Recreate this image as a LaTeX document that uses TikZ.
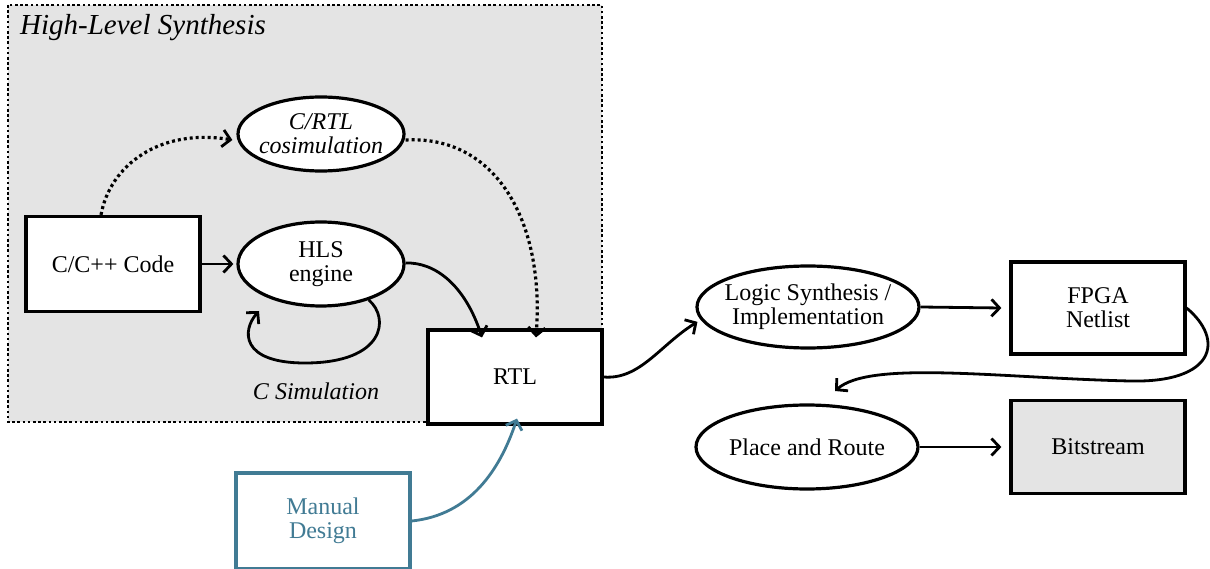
\documentclass[tikz,border=0pt]{standalone}
\usepackage{fontspec}
\setmainfont{Liberation Serif}
\usetikzlibrary{arrows.meta,shapes.geometric}
\definecolor{hlsgray}{HTML}{E4E4E4}
\definecolor{teal}{HTML}{417B94}
\tikzset{
  txt/.style={font=\fontsize{24}{24}\selectfont, align=center},
  box/.style={txt, draw=black, line width=3.2pt, fill=white, minimum width=174pt, minimum height=95pt, inner sep=0pt},
  ell/.style={txt, ellipse, draw=black, line width=3.2pt, fill=white, inner sep=0pt},
  tip/.style={-{Straight Barb[length=8pt,width=17pt,line width=2.8pt]}},
  arr/.style={tip, line width=2.8pt},
  dotarr/.style={tip, line width=3.2pt, dash pattern=on 3pt off 3pt},
}
\begin{document}
\begin{tikzpicture}[x=1pt,y=-1pt]
\useasboundingbox (0,0) rectangle (1210,569);
% HLS region
\draw[fill=hlsgray, line width=2.8pt, dash pattern=on 2.6pt off 2.6pt] (8,5) rectangle (602,422);
\node[anchor=base west, font=\fontsize{29}{30}\selectfont\itshape, inner sep=0pt] (title) at (20,35) {High-Level Synthesis};

\node[box] (code) at (113,264) {C/C++ Code};
\node[ell, minimum width=166pt, minimum height=84pt] (hls) at (321,264) {HLS\\engine};
\node[ell, minimum width=166pt, minimum height=74pt, inner xsep=-6pt] (cosim) at (321,134) {\itshape C/RTL\\\itshape cosimulation};
\node[box, minimum height=94pt] (rtl) at (515,377) {RTL};
\node[txt, font=\fontsize{24}{24}\selectfont\itshape] (csim) at (316,391) {C Simulation};

\node[ell, minimum width=222pt, minimum height=82pt, inner xsep=-12pt] (logic) at (808,307) {Logic Synthesis /\\Implementation};
\node[box, minimum height=92pt] (fpga) at (1098,308) {FPGA\\Netlist};
\node[ell, minimum width=222pt, minimum height=84pt, inner xsep=-8pt] (pr) at (807,447) {Place and Route};
\node[box, fill=hlsgray, minimum height=93pt] (bit) at (1098,447) {Bitstream};
\node[box, draw=teal, text=teal, minimum height=96pt] (manual) at (323,521) {Manual\\Design};

% connectors
\draw[arr] (code.east) -- ([xshift=-3pt]hls.west);
\draw[dotarr] ([xshift=-12pt]code.north) .. controls (110,165) and (160,128) .. ([xshift=-4pt,yshift=-6pt]cosim.west);
\draw[dotarr] ([yshift=-6pt]cosim.east) .. controls (495,135) and (545,220) .. ([xshift=21pt,yshift=-9pt]rtl.north);
\draw[arr] ([yshift=1pt]hls.east) .. controls (435,262) and (465,285) .. ([xshift=-33pt,yshift=-9pt]rtl.north);
\coordinate (loopend) at (259,311);
\draw[arr] (hls.-37) .. controls (390,318) and (385,363) .. (305,363) .. controls (240,363) and (242,330) .. (loopend);
\draw[arr] (rtl.east) .. controls (640,380) and (660,345) .. ([xshift=-5pt]logic.188);
\draw[arr] (logic.east) -- ([xshift=-8pt]fpga.west);
\draw[arr] (pr.east) -- ([xshift=-8pt]bit.west);
\coordinate (prtop) at (835,391);
\draw[arr] (fpga.east) .. controls (1225,340) and (1215,383) .. (1130,381) .. controls (1000,378) and (870,360) .. (prtop);
\draw[arr, draw=teal] (manual.east) .. controls (470,515) and (500,470) .. ([xshift=2pt,yshift=7pt]rtl.south);
\end{tikzpicture}
\end{document}
